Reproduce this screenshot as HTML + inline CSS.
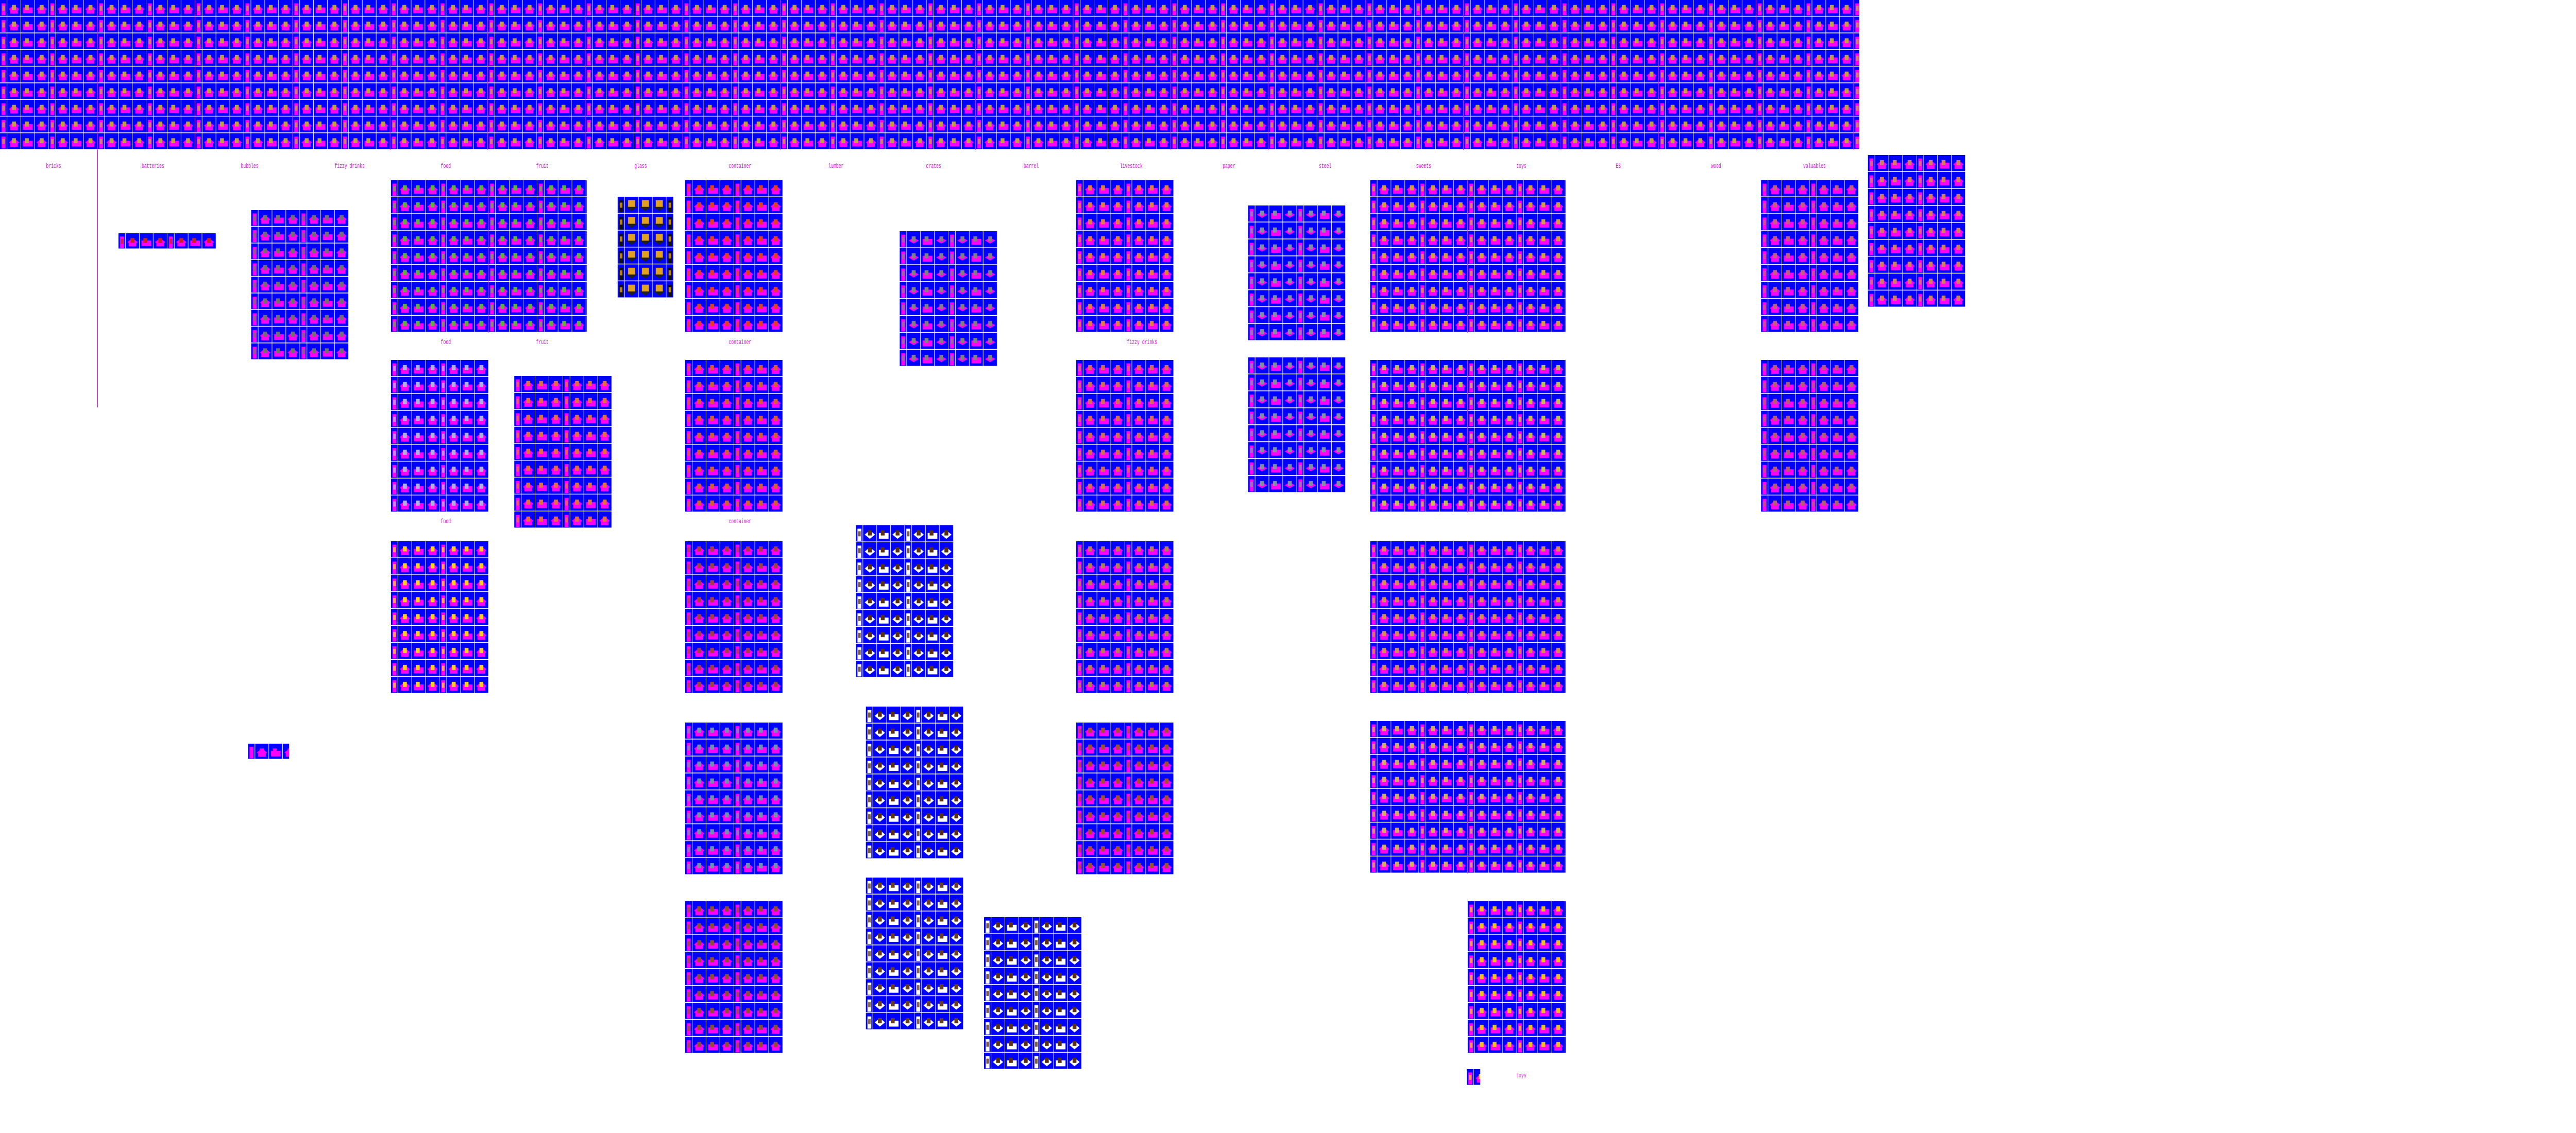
<!DOCTYPE html>
<html><head><meta charset="utf-8">
<style>
html,body{margin:0;padding:0;background:#fff;width:100%;height:100%;overflow:hidden;}
body{position:relative;font-family:"Liberation Mono",monospace;}
svg{position:absolute;left:0;top:0;width:100vw;height:100vh;display:block;}
</style></head>
<body>
<svg id="sheet" viewBox="0 0 8000 2200" preserveAspectRatio="none" xmlns="http://www.w3.org/2000/svg">
<defs id="defs"></defs>
<rect x="302" y="291" width="2" height="500" fill="#ff00ff"/>
</svg>
<script>
// block data: name, x, y, w, h, rows, style, accent
const blockNames=['top-strip','right-top-block','small-strip','sheet-a','food-fruit','ship-block','container-a','batt-block','block-c1','flat-block-a','block-d1','block-e1',
'food-2','block-b2','container-b','block-c2','flat-block-b','block-d2','block-e2',
'food-3','container-c','white-block-a','block-c3','block-d3',
'container-d','white-block-b','block-c4','block-d4',
'container-e','white-block-c','white-block-d','toys-block','small-strip-b','small-square'];
const blockX=[0,5801,368,780,1214,1918,2128,2794,3342,3876,4255,5469,1214,1597,2128,3342,3876,4255,5469,1214,2128,2658,3342,4255,2128,2689,3342,4255,2128,2689,3056,4558,770,4555];
const blockY=[0,301,453,408,350,382,350,449,350,399,350,350,699,730,699,699,694,699,699,1051,1051,1020,1051,1051,1403,1372,1403,1400,1750,1704,1781,1750,1444,2076];
const blockW=[5774,302,303,302,608,174,303,303,303,302,607,303,303,303,303,303,302,607,303,303,303,303,303,607,303,303,303,607,303,303,303,305,128,42];
const blockH=[291,296,31,291,296,197,296,263,296,263,296,296,296,296,296,296,263,296,296,296,296,296,296,296,296,296,296,296,296,296,296,296,31,32];
const blockRows=[9,9,1,9,9,6,9,8,9,8,9,9,9,9,9,9,8,9,9,9,9,9,9,9,9,9,9,9,9,9,9,9,1,1];
const blockStyle=['m','m','m','m','m','d','m','f','m','f','m','m','m','m','m','m','f','m','m','m','m','w','m','m','m','w','m','m','m','w','w','m','m','m'];
const blockAccent=['#c0a040','#d08060','#cc2020','#707070','#60b040','#e0a020','#e04020','#808080','#e08040','#8090a0','#d0a040','#c06080','#b0b0e0','#e07040','#d06030','#d07050','#8090a0','#c0c050','#b06070','#ffd020','#a04040','#5a3010','#b08050','#d09050','#7090b0','#5a3010','#a05030','#d0b060','#8a5030','#6a4020','#5a3010','#f0c020','#ff00ff','#f0c020'];

const labelText=['bricks','batteries','bubbles','fizzy drinks','food','fruit','glass','container','lumber','crates','barrel','livestock','paper','steel','sweets','toys','ES','wood','valuables'];
const labelX=[143,440,748,1039,1369,1665,1970,2263,2573,2876,3179,3478,3797,4096,4398,4709,5018,5314,5600];

const NS='http://www.w3.org/2000/svg';
const svg=document.getElementById('sheet');
const defs=document.getElementById('defs');
function mk(tag,attrs,parent){const e=document.createElementNS(NS,tag);for(const k in attrs)e.setAttribute(k,attrs[k]);(parent||svg).appendChild(e);return e;}

const GW=151.5, NW=22;
blockX.forEach((bx,i)=>{
  const rh=blockH[i]/blockRows[i];
  const st=blockStyle[i];
  const fg= st==='w' ? '#ffffff' : (st==='d' ? '#101010' : '#ff00ff');
  const pid='p'+i;
  const pat=mk('pattern',{id:pid,patternUnits:'userSpaceOnUse',x:bx,y:blockY[i],width:GW,height:rh},defs);
  mk('rect',{x:0,y:0,width:GW,height:rh,fill:'#0000ff'},pat);
  mk('rect',{x:5,y:rh*0.2,width:12,height:rh*0.72,fill:fg},pat);
  mk('rect',{x:7,y:rh*0.35,width:8,height:rh*0.3,fill:blockAccent[i],opacity:0.8},pat);
  const cx=[NW+21.5,NW+64.5,NW+107.5];
  cx.forEach((c,k)=>{
    if(st==='d'){
      mk('polygon',{points:`${c-17},${rh*0.6} ${c},${rh*0.85} ${c+17},${rh*0.6} ${c},${rh*0.4}`,fill:'#202020'},pat);
      mk('rect',{x:c-11,y:rh*0.2,width:22,height:rh*0.4,fill:blockAccent[i]},pat);
    } else if(k===1){
      mk('rect',{x:c-15,y:rh*0.45,width:30,height:rh*0.35,fill:fg},pat);
      mk('rect',{x:c-9,y:rh*0.3,width:12,height:rh*0.3,fill:blockAccent[i]},pat);
    } else {
      const hh=st==='f'?0.18:0.25;
      mk('polygon',{points:`${c-16},${rh*0.55} ${c},${rh*(0.55+hh)} ${c+16},${rh*0.55} ${c},${rh*(0.55-hh)}`,fill:fg},pat);
      if(st==='m') mk('rect',{x:c-12,y:rh*0.6,width:24,height:rh*0.22,fill:fg},pat);
      mk('rect',{x:c-6,y:rh*0.3,width:12,height:rh*0.3,fill:blockAccent[i]},pat);
    }
  });
  [NW,NW+43,NW+86,GW].forEach(gx=>mk('rect',{x:gx-1,y:0,width:1.5,height:rh,fill:'#ffffff'},pat));
  mk('rect',{x:0,y:rh-1.5,width:GW,height:1.5,fill:'#ffffff'},pat);
  const r=mk('rect',{x:bx,y:blockY[i],width:blockW[i],height:blockH[i],fill:`url(#${pid})`});
  
  
  for(let gx=bx+2*GW; gx<bx+blockW[i]-5; gx+=2*GW){
    const ln=mk('rect',{x:gx-1,y:blockY[i],width:1.5,height:blockH[i],fill:'#ff00ff'});
    
    
  }
});

labelText.forEach((t,i)=>{
  const tx=mk('text',{x:labelX[i],y:326,fill:'#ff00ff','font-size':13,'font-family':'Liberation Mono, monospace'});
  tx.textContent=t;
  
  
});

const subText=['food','fruit','container','food','container','fizzy drinks','toys'];
const subX=[1369,1665,2263,1369,2263,3500,4709];
const subY=[668,668,668,1016,1016,668,2092];
subText.forEach((t,i)=>{
  const tx=mk('text',{x:subX[i],y:subY[i],fill:'#ff00ff','font-size':13,'font-family':'Liberation Mono, monospace'});
  tx.textContent=t;
  
  
});
</script>
</body></html>
